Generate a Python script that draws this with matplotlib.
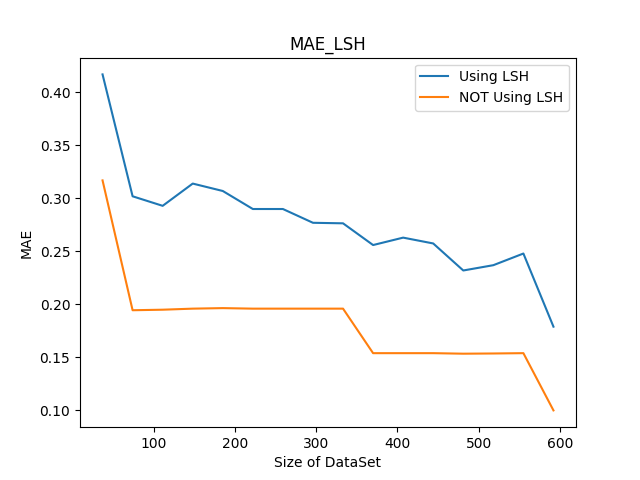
import matplotlib
matplotlib.use("Agg")
import matplotlib.pyplot as plt

sizes = [37, 74, 111, 148, 185, 222, 259, 296, 333, 370, 407, 444, 481, 518, 555, 592]
mae_lsh = [0.417, 0.302, 0.293, 0.314, 0.307, 0.290, 0.290, 0.277, 0.2765, 0.256,
           0.263, 0.2575, 0.232, 0.237, 0.248, 0.179]
mae_no_lsh = [0.317, 0.1945, 0.195, 0.196, 0.1965, 0.196, 0.196, 0.196, 0.196, 0.154,
              0.154, 0.154, 0.1535, 0.1537, 0.154, 0.100]

fig, ax = plt.subplots(figsize=(6.4, 4.8), dpi=100)
ax.plot(sizes, mae_lsh, label="Using LSH")
ax.plot(sizes, mae_no_lsh, label="NOT Using LSH")
ax.set_title("MAE_LSH")
ax.set_xlabel("Size of DataSet")
ax.set_ylabel("MAE")
ax.legend()
fig.savefig("out.png")
